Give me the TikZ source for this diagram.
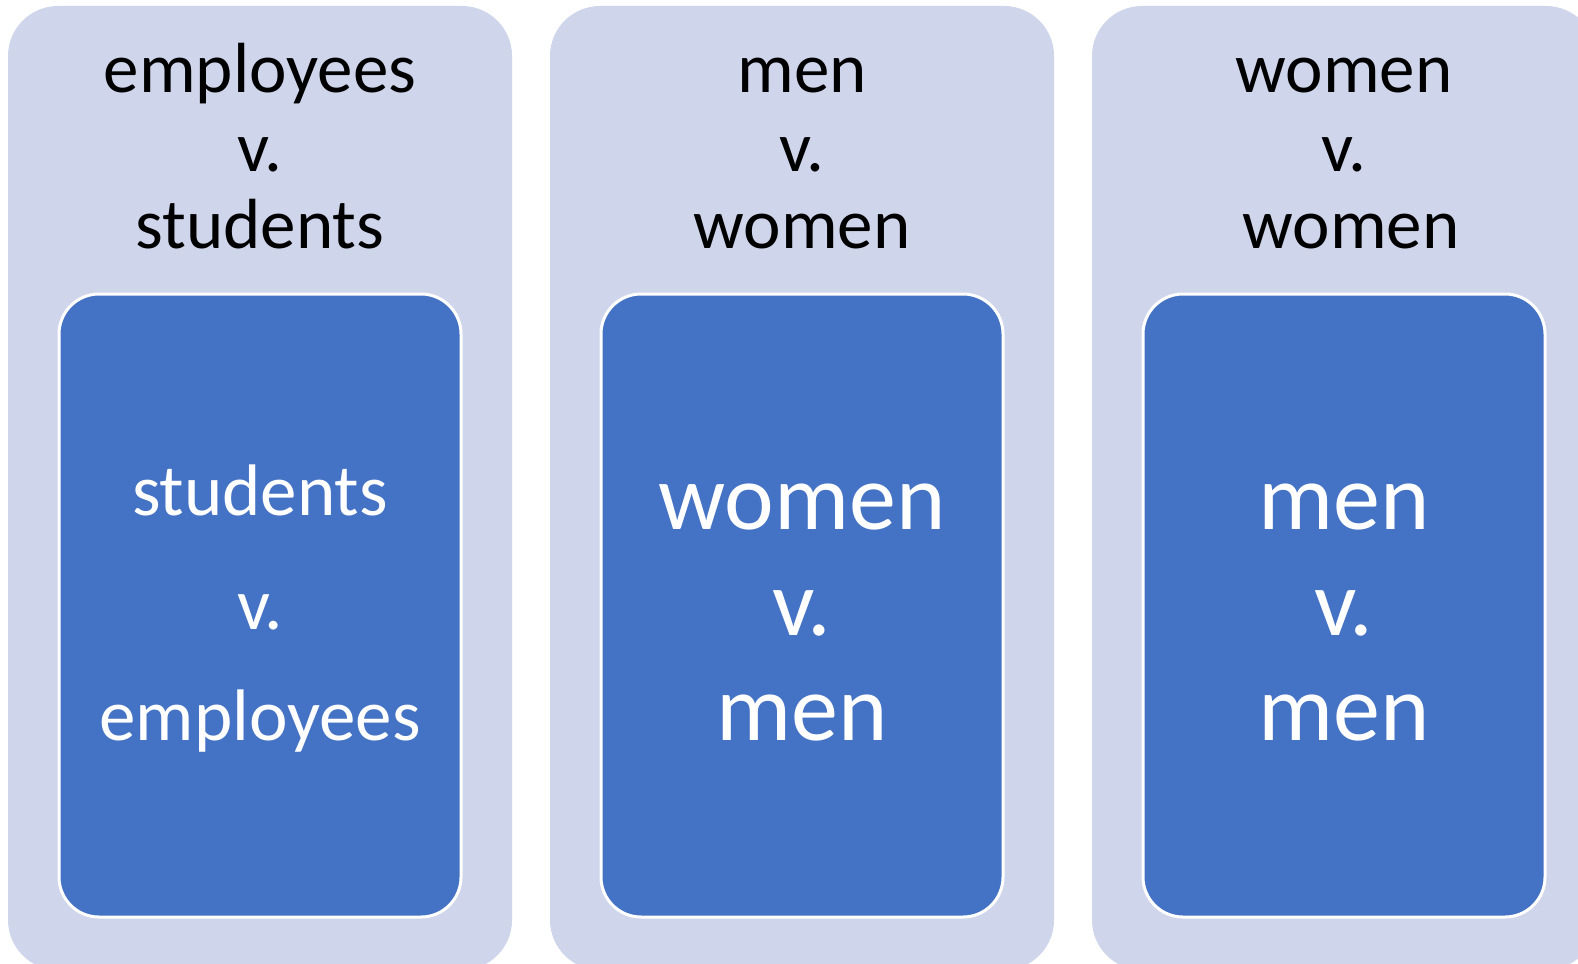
\documentclass[tikz,border=0pt]{standalone}
\usepackage{fontspec}
\setmainfont{Carlito}
\definecolor{outerfill}{HTML}{CFD5EA}
\definecolor{innerfill}{HTML}{4472C4}
\tikzset{
  outerbox/.style={fill=outerfill, draw=none, rounded corners=25pt},
  innerbox/.style={fill=innerfill, draw=white, line width=1.5pt, rounded corners=20pt},
  toptext/.style={anchor=base, inner sep=0pt, font=\fontsize{35.5pt}{39pt}\selectfont, text=black},
  smalltext/.style={anchor=base, inner sep=0pt, font=\fontsize{36.5pt}{40pt}\selectfont, text=white},
  bigtext/.style={anchor=base, inner sep=0pt, font=\fontsize{47pt}{52pt}\selectfont, text=white}
}
\begin{document}
\begin{tikzpicture}[x=0.5pt,y=-0.5pt]
\useasboundingbox (0,0) rectangle (1578,963);
\clip (0,0) rectangle (1578,963);
\fill[white] (0,0) rectangle (1578,963);
% outer panels
\path[outerbox] (8,6) rectangle (512,970);
\path[outerbox] (550,6) rectangle (1054,970);
\path[outerbox] (1092,6) rectangle (1596,970);
% inner panels
\path[innerbox] (59,294) rectangle (461,917);
\path[innerbox] (601,294) rectangle (1003,917);
\path[innerbox] (1143,294) rectangle (1545,917);
% top texts
\node[toptext] (a1) at (260,93) {employees};
\node[toptext] (a2) at (260,171) {v.};
\node[toptext] (a3) at (260,248) {students};
\node[toptext] (b1) at (802,93) {men};
\node[toptext] (b2) at (802,171) {v.};
\node[toptext] (b3) at (802,248) {women};
\node[toptext] (c1) at (1344,93) {women};
\node[toptext] (c2) at (1344,171) {v.};
\node[toptext] (c3) at (1351,248) {women};
% inner texts
\node[smalltext] (d1) at (260,515) {students};
\node[smalltext] (d2) at (260,629) {v.};
\node[smalltext] (d3) at (260,740) {employees};
\node[bigtext] (e1) at (802,529) {women};
\node[bigtext] (e2) at (802,635) {v.};
\node[bigtext] (e3) at (802,740) {men};
\node[bigtext] (f1) at (1344,529) {men};
\node[bigtext] (f2) at (1344,635) {v.};
\node[bigtext] (f3) at (1344,740) {men};
\end{tikzpicture}
\end{document}
